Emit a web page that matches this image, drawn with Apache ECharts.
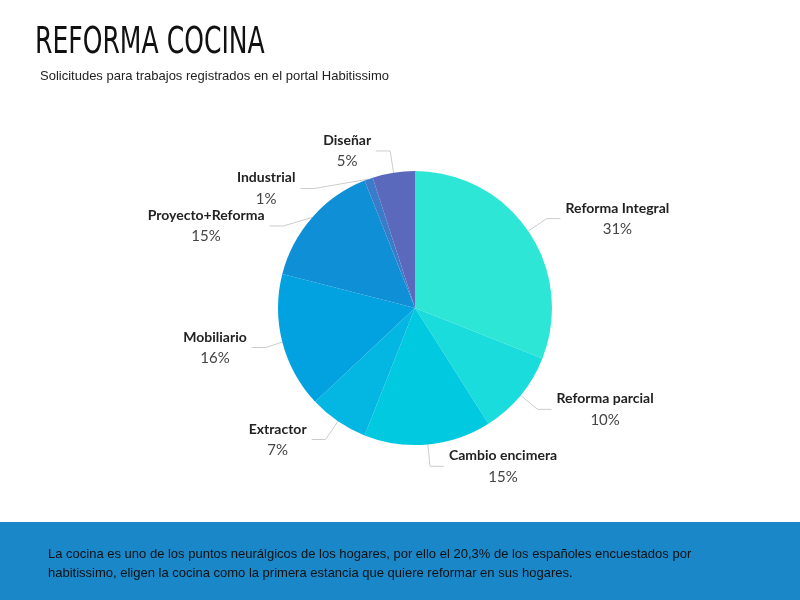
<!DOCTYPE html>
<html>
<head>
<meta charset="utf-8">
<script src="https://cdn.jsdelivr.net/npm/echarts@6/dist/echarts.min.js"></script>
<style>html,body{margin:0;padding:0;background:#fff}#chart{width:800px;height:600px}</style>
</head>
<body>
<div id="chart"></div>
<script>
var categories = ['Reforma Integral', 'Reforma parcial', 'Cambio encimera', 'Extractor', 'Mobiliario', 'Proyecto+Reforma', 'Industrial', 'Diseñar'];
var values = [31, 10, 15, 7, 16, 15, 1, 5];
var colors = ['#2ee6d6', '#1adcdc', '#00c9e0', '#04b6e2', '#02a2e0', '#0e8fd6', '#3a7cc9', '#5b69bd'];

var chart = echarts.init(document.getElementById('chart'));
var data = categories.map(function (c, i) {
    return { name: c, value: values[i], itemStyle: { color: colors[i] } };
});

chart.setOption({
    animation: false,
    title: {
        text: 'Solicitudes para trabajos registrados en el portal Habitissimo',
        left: 35, top: 65,
        textStyle: { fontFamily: 'Liberation Sans', fontSize: 13, fontWeight: 'normal', color: '#222' }
    },
    graphic: [
        { type: 'text', x: 35, y: 24, scaleX: 0.66, style: {
            text: 'REFORMA COCINA', font: '38px DejaVu Sans', fill: '#111' } },
        { type: 'rect', shape: { x: 0, y: 522, width: 800, height: 78 }, style: { fill: '#1a87c9' } },
        { type: 'text', left: 48, top: 545, style: {
            text: 'La cocina es uno de los puntos neurálgicos de los hogares, por ello el 20,3% de los españoles encuestados por\nhabitissimo, eligen la cocina como la primera estancia que quiere reformar en sus hogares.',
            font: '13px Liberation Sans', fill: '#111', lineHeight: 19 } }
    ],
    series: [{
        type: 'pie',
        center: [415, 308],
        radius: [0, 137],
        startAngle: 90,
        clockwise: true,
        data: data,
        label: {
            formatter: '{n|{b}}\n{p|{c}%}',
            align: 'center',
            rich: {
                n: { fontFamily: 'Lato', fontWeight: 'bold', fontSize: 14, color: '#222', lineHeight: 21, align: 'center' },
                p: { fontFamily: 'Lato', fontSize: 15, color: '#444', lineHeight: 21, align: 'center' }
            }
        },
        labelLine: { length: 22, length2: 14, lineStyle: { color: '#ccc' } }
    }]
});
</script>
</body>
</html>
